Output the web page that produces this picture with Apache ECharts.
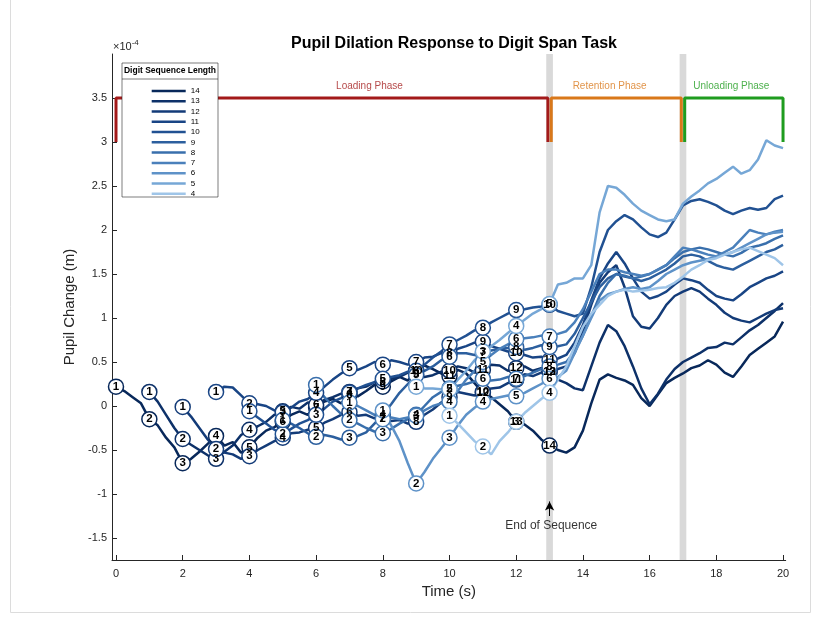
<!DOCTYPE html>
<html><head><meta charset="utf-8">
<script src="https://cdn.jsdelivr.net/npm/echarts@6/dist/echarts.min.js"></script>
<style>html,body{margin:0;padding:0;background:#fff}#c{width:817px;height:619px}</style>
</head><body><div id="c"></div>
<script>
// ---- data (values in units of 1e-4 m, sampled every dt seconds from the first digit) ----
const seqLengths = [14,13,12,11,10,9,8,7,6,5,4];
const dt = 0.25;
const seqEnd = 13;
const s14 = [0.22,0.17,0.10,0.03, -0.15,-0.22,-0.36,-0.47, -0.65,-0.60,-0.52,-0.43, -0.34,-0.45,-0.41,-0.53, -0.47,-0.36,-0.28,-0.24,
  -0.18,-0.10,-0.06,-0.10, -0.02,0.05,0.08,0.03, 0.13,0.11,0.17,0.24, 0.22,0.28,0.33,0.29, 0.40,0.46,0.42,0.37,
  0.34,0.41,0.37,0.26, 0.15,0.10,0.02,-0.06, -0.18,-0.21,-0.28,-0.38, -0.45,-0.50,-0.53,-0.47, -0.28,0.03,0.30,0.36,
  0.32,0.29,0.24,0.09, 0.00,0.13,0.26,0.32, 0.37,0.43,0.46,0.52, 0.47,0.38,0.33,0.45, 0.58,0.65,0.72,0.79, 0.96];
const s13 = [0.16,0.05,-0.10,-0.25, -0.375,-0.44,-0.50,-0.56, -0.60,-0.52,-0.45,-0.33, -0.27,-0.23,-0.18,-0.10, -0.06,-0.01,-0.03,0.04,
  0.01,0.07,0.10,0.14, 0.16,0.20,0.22,0.27, 0.28,0.31,0.33,0.38, 0.36,0.33,0.35,0.39, 0.40,0.45,0.43,0.38,
  0.41,0.47,0.46,0.40, 0.43,0.45,0.40,0.43, 0.39,0.30,0.26,0.20, 0.18,0.45,0.72,0.92, 0.85,0.68,0.45,0.20,
  0.02,0.14,0.30,0.42, 0.50,0.55,0.60,0.66, 0.67,0.72,0.70,0.78, 0.86,0.92,1.00,1.08, 1.17];
const s12 = [-0.01,-0.12,-0.25,-0.38, -0.49,-0.53,-0.55,-0.60, -0.57,-0.50,-0.45,-0.40, -0.36,-0.31,-0.30,-0.27, -0.25,-0.19,-0.15,-0.10,
  -0.07,-0.11,-0.10,-0.14, -0.13,-0.17,-0.16,-0.20, -0.18,-0.10,-0.04,0.04, 0.10,0.16,0.14,0.12, 0.16,0.20,0.21,0.26,
  0.30,0.36,0.34,0.38, 0.39,0.42,0.45,0.60, 0.85,1.15,1.40,1.52, 1.60,1.35,1.02,0.90, 0.88,1.00,1.15,1.25,
  1.30,1.34,1.30,1.22, 1.15,1.06,1.00,0.97, 0.95,1.00,1.05,1.09, 1.11];
const s11 = [0.16,0.22,0.21,0.12, 0.03,0.02,0.00,-0.05, -0.07,-0.02,0.05,0.08, 0.15,0.22,0.30,0.37, 0.43,0.41,0.45,0.50,
  0.47,0.52,0.50,0.47, 0.50,0.55,0.56,0.60, 0.60,0.65,0.68,0.72, 0.73,0.68,0.65,0.62, 0.60,0.58,0.55,0.56,
  0.52,0.54,0.58,0.72, 0.92,1.20,1.45,1.62, 1.75,1.62,1.45,1.30, 1.22,1.25,1.30,1.38, 1.45,1.43,1.40,1.32,
  1.25,1.22,1.20,1.27, 1.35,1.40,1.45,1.48, 1.53];
const s10 = [-0.06,-0.13,-0.20,-0.27, -0.32,-0.26,-0.20,-0.16, -0.10,-0.03,0.05,0.09, 0.15,0.20,0.24,0.27, 0.31,0.33,0.35,0.39,
  0.40,0.47,0.55,0.62, 0.70,0.75,0.80,0.86, 0.89,0.95,1.00,1.05, 1.09,1.10,1.12,1.13, 1.15,1.08,1.05,1.02,
  1.05,1.35,1.75,2.00, 2.10,2.17,2.12,2.03, 1.95,1.92,1.97,2.12, 2.28,2.33,2.35,2.32, 2.28,2.22,2.18,2.22,
  2.25,2.23,2.25,2.35, 2.39];
const s9 = [-0.16,-0.20,-0.25,-0.31, -0.35,-0.33,-0.35,-0.38, -0.36,-0.34,-0.30,-0.20, -0.10,0.02,0.15,0.25, 0.35,0.40,0.45,0.52,
  0.56,0.60,0.60,0.58, 0.60,0.63,0.65,0.66, 0.67,0.64,0.66,0.69, 0.67,0.68,0.70,0.82, 1.00,1.18,1.35,1.45,
  1.50,1.47,1.45,1.42, 1.45,1.50,1.55,1.62, 1.70,1.72,1.70,1.65, 1.60,1.57,1.55,1.60, 1.65,1.70,1.75,1.78, 1.83];
const s8 = [0.24,0.10,0.00,-0.09, -0.16,-0.20,-0.25,-0.29, -0.31,-0.26,-0.20,-0.15, -0.10,0.00,0.10,0.16, 0.20,0.23,0.25,0.28,
  0.31,0.29,0.30,0.33, 0.31,0.34,0.38,0.42, 0.45,0.47,0.50,0.62, 0.80,1.02,1.25,1.40, 1.50,1.48,1.45,1.47,
  1.50,1.55,1.60,1.68, 1.75,1.78,1.80,1.78, 1.75,1.72,1.70,1.74, 1.80,1.82,1.85,1.90, 1.94];
const s7 = [0.04,0.00,-0.05,-0.10, -0.15,-0.13,-0.15,-0.13, -0.11,-0.05,0.00,0.03, 0.05,0.17,0.30,0.40, 0.50,0.58,0.65,0.70,
  0.76,0.77,0.78,0.80, 0.79,0.82,0.85,0.95, 1.10,1.30,1.50,1.55, 1.55,1.52,1.50,1.48, 1.50,1.55,1.60,1.70,
  1.80,1.78,1.75,1.72, 1.70,1.75,1.80,1.90, 2.00,1.97,1.95,1.98, 2.00];
const s6 = [-0.05,-0.22,-0.40,-0.65, -0.88,-0.75,-0.60,-0.48, -0.36,-0.22,-0.10,-0.02, 0.05,0.08,0.10,0.12, 0.11,0.15,0.20,0.25,
  0.31,0.33,0.40,0.60, 0.80,1.00,1.20,1.27, 1.30,1.33,1.35,1.33, 1.35,1.42,1.50,1.55, 1.60,1.63,1.65,1.67,
  1.70,1.72,1.75,1.80, 1.85,1.90,1.95,1.97, 1.98];
const s5 = [0.22,0.20,0.20,0.19, 0.19,0.30,0.40,0.52, 0.62,0.68,0.75,0.83, 0.91,0.98,1.05,1.10, 1.16,1.38,1.40,1.45,
  1.45,1.60,2.20,2.50, 2.48,2.40,2.30,2.22, 2.17,2.12,2.10,2.12, 2.30,2.38,2.45,2.53, 2.58,2.65,2.72,2.64,
  2.68,2.80,3.02,2.96, 2.93];
const s4 = [-0.11,-0.20,-0.30,-0.40, -0.46,-0.55,-0.40,-0.30, -0.18,-0.08,0.00,0.08, 0.15,0.30,0.45,0.68, 0.90,1.05,1.15,1.25,
  1.30,1.32,1.30,1.31, 1.32,1.34,1.35,1.40, 1.47,1.55,1.60,1.66, 1.68,1.72,1.75,1.78, 1.80,1.76,1.72,1.68, 1.60];
const seriesValues = [s14,s13,s12,s11,s10,s9,s8,s7,s6,s5,s4];
const lineColors = ['#08285a','#0d3169','#133b78','#194585','#215192','#2c5f9e','#396fac','#4a80bb','#5e92c8','#76a7d6','#9fc5e8'];
const xTicks = [0,2,4,6,8,10,12,14,16,18,20];
const yTicks = [-1.5,-1,-0.5,0,0.5,1,1.5,2,2.5,3,3.5];
const phaseNames = ['Loading Phase','Retention Phase','Unloading Phase'];
const phaseBounds = [0,13,17,20];
const phaseTop = 3.5, phaseBottom = 3.0;
const phaseLabelX = [7.6,14.8,18.45];
const phaseLabelY = 3.63;
const phaseColors = ['#a31a1a','#d9781a','#1f9c1f'];
const bandTimes = [13,17];
const arrowFrom = [13,-1.25], arrowTo = [13,-1.085];
const arrowText = 'End of Sequence', arrowTextPos = [13.05,-1.365];

// ---- build ----
const FONT = 'Liberation Sans, Arial, Helvetica, sans-serif';
const series = [];
series.push({
  type:'line', data:[], silent:true, z:1,
  markArea:{silent:true, itemStyle:{color:'#d9d9d9'},
    data: bandTimes.map(t=>[{xAxis:t-0.1},{xAxis:t+0.1}])}
});
seqLengths.forEach((L,i)=>{
  const t0 = (seqEnd+1) - L;
  const vals = seriesValues[i];
  series.push({
    type:'line', name:String(L), z:2, silent:true,
    data: vals.map((v,j)=>[t0+j*dt, v]),
    symbol:'none', showSymbol:false,
    lineStyle:{width:2.5, color:lineColors[i]},
    itemStyle:{color:lineColors[i]}
  });
});
seqLengths.forEach((L,i)=>{
  const t0 = (seqEnd+1) - L;
  const vals = seriesValues[i];
  const md = [];
  for(let k=1;k<=L;k++){ const idx = Math.round((k-1)/dt); md.push([t0+k-1, vals[idx], k]); }
  series.push({
    type:'scatter', name:'m'+L, z:3, silent:true, data:md, symbol:'circle', symbolSize:15,
    itemStyle:{color:'#fff', borderColor:lineColors[i], borderWidth:1.5, opacity:1},
    label:{show:true, position:'inside', formatter:p=>p.value[2], color:'#000', fontWeight:'bold', fontSize:11.5, fontFamily:FONT}
  });
});
phaseNames.forEach((nm,i)=>{
  const a = phaseBounds[i] + (i>0?0.05:0);
  const b = phaseBounds[i+1] - (i<phaseNames.length-1?0.05:0);
  series.push({
    type:'line', name:'ph'+i, z:4, silent:true, symbol:'none',
    data:[[a,phaseBottom],[a,phaseTop],[b,phaseTop],[b,phaseBottom]],
    lineStyle:{width:3, color:phaseColors[i]}
  });
  series.push({
    type:'scatter', name:'phl'+i, z:4, silent:true, symbolSize:0,
    data:[[phaseLabelX[i], phaseLabelY]],
    label:{show:true, position:'inside', formatter:nm, color:phaseColors[i], fontSize:10, fontFamily:FONT}
  });
});
series.push({
  type:'line', name:'arrow', data:[], z:5, silent:true,
  markLine:{silent:true, symbol:['none','arrow'], symbolSize:[7,9], label:{show:false},
    lineStyle:{color:'#000', width:1, type:'solid'},
    data:[[{coord:arrowFrom},{coord:arrowTo}]]}
});
series.push({
  type:'scatter', name:'arrowtxt', z:5, silent:true, symbolSize:0, data:[arrowTextPos],
  label:{show:true, position:'inside', formatter:arrowText, color:'#000', fontSize:12, fontFamily:FONT}
});

const axisCol = '#262626';
const option = {
  animation:false,
  backgroundColor:'#fff',
  textStyle:{fontFamily:FONT},
  title:{text:'Pupil Dilation Response to Digit Span Task', left:449, top:31, textAlign:'center',
    textStyle:{fontSize:16, fontWeight:'bold', color:'#000', fontFamily:FONT}},
  grid:{left:112, top:54, width:673.7, height:506},
  xAxis:{type:'value', min:-0.12, max:20.08,
    name:'Time (s)', nameLocation:'middle', nameGap:23, nameTextStyle:{fontSize:15, color:axisCol, fontFamily:FONT},
    axisLine:{show:true, onZero:false, lineStyle:{color:axisCol, width:1}},
    axisTick:{show:true, inside:true, length:5, customValues:xTicks, lineStyle:{color:axisCol}},
    axisLabel:{customValues:xTicks, fontSize:11, color:axisCol, margin:8, fontFamily:FONT},
    splitLine:{show:false}},
  yAxis:{type:'value', min:-1.75, max:4.0,
    name:'Pupil Change (m)', nameLocation:'middle', nameGap:20, nameTextStyle:{fontSize:15, color:axisCol, fontFamily:FONT},
    axisLine:{show:true, onZero:false, lineStyle:{color:axisCol, width:1}},
    axisTick:{show:true, inside:true, length:5, customValues:yTicks, lineStyle:{color:axisCol}},
    axisLabel:{customValues:yTicks, fontSize:11, color:axisCol, margin:5, fontFamily:FONT},
    splitLine:{show:false}},
  legend:{show:true, orient:'vertical', left:146.7, top:82, z:100,
    data:seqLengths.map(String), icon:'rect', itemWidth:34, itemHeight:2.5, itemGap:2.27,
    textStyle:{fontSize:8, lineHeight:8, color:'#000', fontFamily:FONT}, selectedMode:false},
  graphic:[
    {type:'rect', z:90, shape:{x:122, y:63, width:96, height:134}, style:{fill:'#fff', stroke:'#262626', lineWidth:0.6}},
    {type:'line', z:91, shape:{x1:122, y1:79, x2:218, y2:79}, style:{stroke:'#262626', lineWidth:0.6}},
    {type:'text', z:91, x:170, y:71, style:{text:'Digit Sequence Length', fill:'#000', align:'center', verticalAlign:'middle', font:'bold 8.5px '+FONT}},
    {type:'text', z:91, x:113, y:47, style:{text:'{a|×10}{b|-4}', verticalAlign:'middle', rich:{a:{fontSize:11, fill:axisCol, fontFamily:FONT}, b:{fontSize:8, fill:axisCol, fontFamily:FONT, verticalAlign:'top', padding:[0,0,8,0]}}}},
    {type:'polyline', z:0, silent:true, shape:{points:[[10.5,0],[10.5,612.5],[810.5,612.5],[810.5,0]]}, style:{stroke:'#dcdcdc', lineWidth:1, fill:null}}
  ],
  series:series
};
const chart = echarts.init(document.getElementById('c'));
chart.setOption(option);
</script></body></html>
